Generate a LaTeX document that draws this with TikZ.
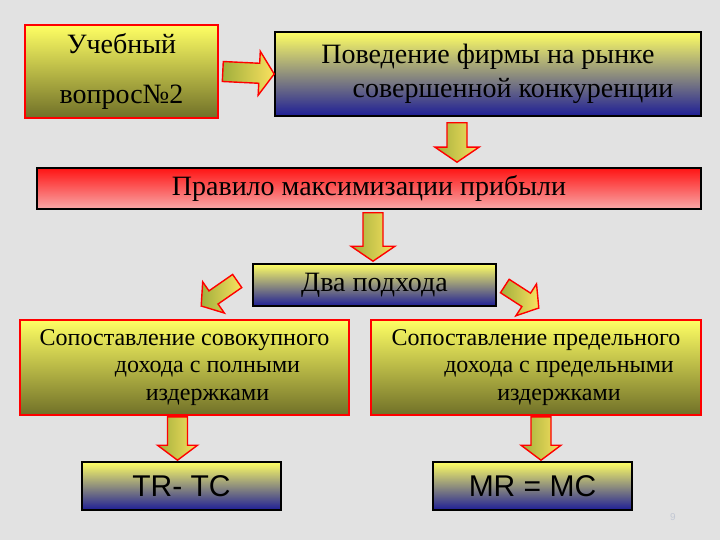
\documentclass[tikz,border=0pt]{standalone}
\usepackage{fontspec}
\setmainfont{Liberation Serif}
\newfontfamily\arialfont{Liberation Sans}
\usetikzlibrary{calc}

\definecolor{paper}{RGB}{226,226,226}
\definecolor{lemon}{RGB}{255,255,100}
\definecolor{olivedark}{RGB}{112,112,40}
\definecolor{navy}{RGB}{30,30,150}
\definecolor{redtop}{RGB}{255,20,20}
\definecolor{pinkbottom}{RGB}{248,168,168}
\definecolor{arrowgreen}{RGB}{160,175,60}
\definecolor{arrowyellow}{RGB}{250,225,95}
\definecolor{pagenum}{RGB}{195,200,212}

\def\aw{10pt}\def\aW{22pt}\def\ah{15pt}
\def\fatarrow[#1](#2)(#3){\draw[arrowbody,#1] let \p1=(#2), \p2=(#3), \n1={atan2(\y2-\y1,\x2-\x1)}, \n2={veclen(\x2-\x1,\y2-\y1)} in
  ($(\p1)+(\n1+90:\aw)$) -- ($(\p1)+(\n1:{\n2*1pt-\ah})+(\n1+90:\aw)$) -- ($(\p1)+(\n1:{\n2*1pt-\ah})+(\n1+90:\aW)$)
  -- (\p2) -- ($(\p1)+(\n1:{\n2*1pt-\ah})+(\n1-90:\aW)$) -- ($(\p1)+(\n1:{\n2*1pt-\ah})+(\n1-90:\aw)$) -- ($(\p1)+(\n1-90:\aw)$) -- cycle;}

\tikzset{
  olivebox/.style={draw=red, line width=1.6pt, top color=lemon, bottom color=olivedark, inner sep=0pt, align=center},
  bluebox/.style={draw=black, line width=1.6pt, top color=lemon, bottom color=navy, inner sep=0pt, align=center},
  redbox/.style={draw=black, line width=1.6pt, top color=redtop, bottom color=pinkbottom, inner sep=0pt, align=center},
  arrowbody/.style={draw=red, line width=1.4pt, line join=miter, left color=arrowgreen, right color=arrowyellow}
}

\begin{document}
\begin{tikzpicture}[x=1pt,y=-1pt]
			%%%%% START %%%%%
			
			\fill[paper] (0,0) rectangle (720,540);
			
			\node[olivebox, minimum width=193pt, minimum height=93pt, font=\fontsize{28}{34}\selectfont] (learn) at (121.5,71.5) {Учебный\\[16pt]вопрос№2};
			\node[bluebox, minimum width=426pt, minimum height=84pt, font=\fontsize{28}{34}\selectfont] (behave) at (488,74) {Поведение фирмы на рынке\\\hspace*{50pt}совершенной конкуренции};
			\node[redbox, minimum width=664pt, minimum height=41pt, font=\fontsize{28}{34}\selectfont] (rule) at (369,188.5) {Правило максимизации прибыли};
			\node[bluebox, minimum width=243pt, minimum height=42pt, font=\fontsize{28}{34}\selectfont] (two) at (374.5,285) {Два подхода};
			
			\node[olivebox, minimum width=329pt, minimum height=95pt, font=\fontsize{24}{27.5}\selectfont] (total) at (184.5,367.5) {Сопоставление совокупного\\\hspace*{46pt}дохода с полными\\\hspace*{46pt}издержками};
			\node[olivebox, minimum width=330pt, minimum height=95pt, font=\fontsize{24}{27.5}\selectfont] (marginal) at (536,367.5) {Сопоставление предельного\\\hspace*{46pt}дохода с предельными\\\hspace*{46pt}издержками};
			
			\node[bluebox, minimum width=199pt, minimum height=48pt, font=\arialfont\fontsize{30}{34}\selectfont] (trtc) at (181.5,486) {TR- TC};
			\node[bluebox, minimum width=199pt, minimum height=48pt, font=\arialfont\fontsize{30}{34}\selectfont] (mrmc) at (532.5,486) {MR = MC};
			
			\node[text=pagenum, font=\arialfont\fontsize{10}{12}\selectfont] (page) at (673,517) {9};
			
			% arrow ends
			\coordinate (behave-out) at ($(behave.south)+(-31,6)$);
			\coordinate (rule-in) at ($(behave.south |- rule.north)+(-31,-5)$);
			\coordinate (rule-out) at ($(rule.south)+(4,3)$);
			\coordinate (two-in) at ($(rule.south |- two.north)+(4,-2)$);
			\coordinate (left-out) at ($(two.west)+(-15,-4)$);
			\coordinate (left-tip) at ($(two.west)+(-51,21)$);
			\coordinate (right-out) at ($(two.east)+(8,1)$);
			\coordinate (right-tip) at ($(two.east)+(42,23)$);
			\coordinate (total-out) at ($(total.south)+(-7,1)$);
			\coordinate (trtc-in) at ($(total.south |- trtc.north)+(-7,-1)$);
			\coordinate (marginal-out) at ($(marginal.south)+(5,1)$);
			\coordinate (mrmc-in) at ($(marginal.south |- mrmc.north)+(5,-1)$);
			
			\fatarrow[]([xshift=4pt]learn.east)(behave.west);
			\fatarrow[](behave-out)(rule-in);
			\fatarrow[](rule-out)(two-in);
			
			\def\aw{8pt}\def\aW{19pt}\def\ah{15pt}
			\fatarrow[](left-out)(left-tip);
			\fatarrow[](right-out)(right-tip);
			
			\def\aw{10pt}\def\aW{20pt}\def\ah{15pt}
			\fatarrow[](total-out)(trtc-in);
			\fatarrow[](marginal-out)(mrmc-in);
			
			%%%%% END %%%%%
\end{tikzpicture}
\end{document}
